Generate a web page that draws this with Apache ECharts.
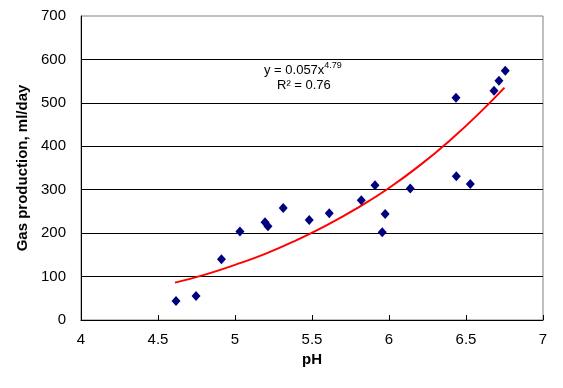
<!DOCTYPE html>
<html>
<head>
<meta charset="utf-8">
<script src="https://cdn.jsdelivr.net/npm/echarts@6/dist/echarts.min.js"></script>
<style>
html,body{margin:0;padding:0;background:#fff;}
#chart{width:563px;height:388px;}
</style>
</head>
<body>
<div id="chart"></div>
<script>
// Observed data points (pH, gas production ml/day)
const phValues  = [4.617, 4.747, 4.912, 5.032, 5.195, 5.214, 5.313, 5.482, 5.612, 5.820, 5.909, 5.956, 5.975, 6.138, 6.435, 6.437, 6.528, 6.682, 6.714, 6.755];
const gasValues = [44, 55, 140, 204, 225, 216, 258, 230, 246, 276, 310, 202, 244, 303, 512, 331, 313, 528, 551, 574];

// Trend line (power fit)
const trendPh  = [4.61, 4.8, 5.0, 5.2, 5.4, 5.6, 5.8, 6.0, 6.2, 6.4, 6.6, 6.75];
const trendGas = [86, 104, 127, 153, 184, 219, 259, 304, 356, 415, 481, 535];

// Axis ticks
const xMin = 4, xMax = 7, xStep = 0.5;
const yMin = 0, yMax = 700, yStep = 100;

const equationText = '{m|y = 0.057x}{s|4.79}';
const r2Text = 'R² = 0.76';

const font = 'Arial, "Liberation Sans", sans-serif';

const chart = echarts.init(document.getElementById('chart'));
chart.setOption({
  animation: false,
  backgroundColor: '#fff',
  grid: {left: 81, right: 20, top: 16, bottom: 68, show: true, borderColor: '#808080', borderWidth: 1, backgroundColor: 'transparent'},
  xAxis: {
    type: 'value', min: xMin, max: xMax, interval: xStep,
    name: 'pH', nameLocation: 'middle', nameGap: 31,
    nameTextStyle: {fontFamily: font, fontWeight: 'bold', fontSize: 15, color: '#000'},
    axisLine: {lineStyle: {color: '#000', width: 1}},
    axisTick: {inside: true, length: 5, lineStyle: {color: '#000'}},
    axisLabel: {fontFamily: font, fontSize: 15, color: '#000', margin: 12},
    splitLine: {show: false}
  },
  yAxis: {
    type: 'value', min: yMin, max: yMax, interval: yStep,
    name: 'Gas production, ml/day', nameLocation: 'middle', nameGap: 43,
    nameTextStyle: {fontFamily: font, fontWeight: 'bold', fontSize: 15, color: '#000'},
    axisLine: {show: true, lineStyle: {color: '#000', width: 1}},
    axisTick: {show: false},
    axisLabel: {fontFamily: font, fontSize: 15, color: '#000', margin: 15},
    splitLine: {show: true, showMinLine: false, showMaxLine: false, lineStyle: {color: '#000', width: 1}}
  },
  series: [
    {
      type: 'line', data: trendPh.map((x, i) => [x, trendGas[i]]),
      smooth: true, symbol: 'none', z: 3,
      lineStyle: {color: '#ff0000', width: 2}
    },
    {
      type: 'scatter', data: phValues.map((x, i) => [x, gasValues[i]]),
      symbol: 'diamond', symbolSize: [9, 10], z: 4,
      itemStyle: {color: '#000080', opacity: 1}
    }
  ],
  graphic: [
    {
      type: 'text', left: 264, top: 61,
      style: {
        text: equationText, fill: '#000',
        rich: {
          m: {fontFamily: font, fontSize: 13, fill: '#000', verticalAlign: 'bottom', lineHeight: 16},
          s: {fontFamily: font, fontSize: 9, fill: '#000', verticalAlign: 'top', lineHeight: 16}
        }
      }
    },
    {
      type: 'text', left: 277, top: 79,
      style: {text: r2Text, fill: '#000', font: '13px ' + font}
    }
  ]
});
</script>
</body>
</html>
